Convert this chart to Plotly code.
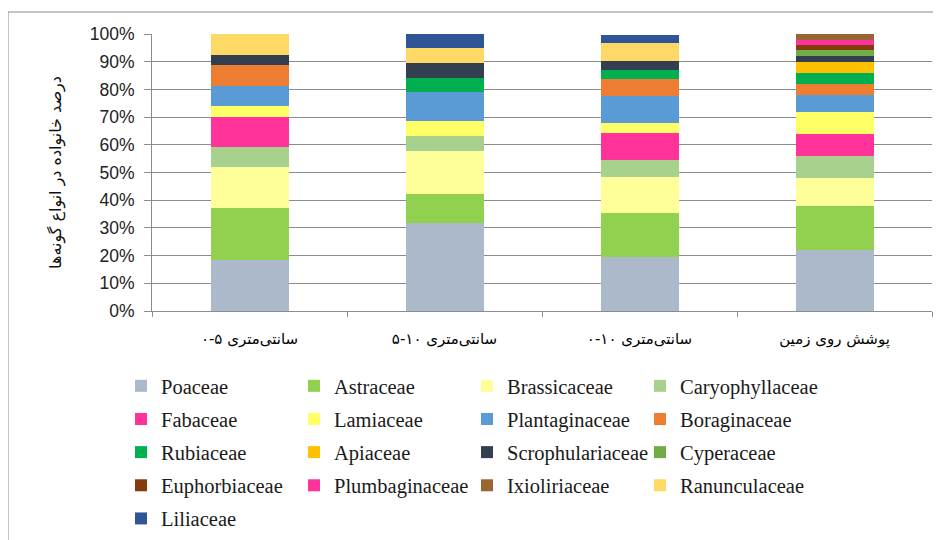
import plotly.graph_objects as go

LRE, RLE, PDF = "\u202A", "\u202B", "\u202C"

def ltr_label(num, word):
    # digits on the left, Persian word on the right, independent of base direction
    return LRE + num + " " + RLE + word + PDF + PDF

categories = [ltr_label("۰-۵", "سانتی‌متری"),
              ltr_label("۵-۱۰", "سانتی‌متری"),
              ltr_label("۰-۱۰", "سانتی‌متری"),
              "پوشش روی زمین"]

families = ["Poaceae", "Astraceae", "Brassicaceae", "Caryophyllaceae",
            "Fabaceae", "Lamiaceae", "Plantaginaceae", "Boraginaceae",
            "Rubiaceae", "Apiaceae", "Scrophulariaceae", "Cyperaceae",
            "Euphorbiaceae", "Plumbaginaceae", "Ixioliriaceae", "Ranunculaceae",
            "Liliaceae"]

poaceae = [18.4, 31.6, 19.5, 21.9]
astraceae = [18.7, 10.7, 15.9, 16.1]
brassicaceae = [14.8, 15.5, 13.1, 10.1]
caryophyllaceae = [7.2, 5.3, 6.1, 7.8]
fabaceae = [11.1, 0.0, 9.6, 8.1]
lamiaceae = [3.9, 5.5, 3.5, 8.0]
plantaginaceae = [7.2, 10.4, 9.8, 5.9]
boraginaceae = [7.6, 0.0, 6.1, 4.1]
rubiaceae = [0.0, 5.2, 3.5, 3.9]
apiaceae = [0.0, 0.0, 0.0, 4.1]
scrophulariaceae = [3.5, 5.2, 3.1, 2.2]
cyperaceae = [0.0, 0.0, 0.0, 1.9]
euphorbiaceae = [0.0, 0.0, 0.0, 1.8]
plumbaginaceae = [0.0, 0.0, 0.0, 2.0]
ixioliriaceae = [0.0, 0.0, 0.0, 2.0]
ranunculaceae = [7.6, 5.4, 6.6, 0.0]
liliaceae = [0.0, 5.2, 3.0, 0.0]

series = [poaceae, astraceae, brassicaceae, caryophyllaceae, fabaceae, lamiaceae,
          plantaginaceae, boraginaceae, rubiaceae, apiaceae, scrophulariaceae,
          cyperaceae, euphorbiaceae, plumbaginaceae, ixioliriaceae, ranunculaceae,
          liliaceae]

colors = ["#ACB9CA", "#92D050", "#FFFF99", "#A9D18E", "#FF3399", "#FFFF66",
          "#5B9BD5", "#ED7D31", "#00B050", "#FFC000", "#333F50", "#70AD47",
          "#843C0C", "#FF3399", "#996633", "#FFD966", "#2F5597"]

y_title = "درصد خانواده در انواع گونه‌ها"

# page body adds an 8px margin; work in window pixels and convert
OFF = 8
WIN_W, WIN_H = 941, 540
W, H = WIN_W - OFF, WIN_H - OFF
PL, PR, PT, PB = 152, 932, 34, 311   # plot area in window pixels
L, R, T, B = PL - OFF, WIN_W - PR, PT - OFF, WIN_H - PB
pw, ph = PR - PL, PB - PT

def px(xw):
    return (xw - PL) / pw

def py(yw):
    return (PB - yw) / ph

legend_names = ["legend", "legend2", "legend3", "legend4"]

fig = go.Figure()
for i, (name, vals, col) in enumerate(zip(families, series, colors)):
    fig.add_trace(go.Bar(x=categories, y=vals, name=name,
                         legend=legend_names[i % 4], legendgroup=name,
                         marker=dict(color=col, line=dict(width=0))))

text_x = [161, 334, 507, 680]
leg_common = dict(orientation="v", yanchor="top", xanchor="left",
                  traceorder="grouped", tracegroupgap=3.5, itemwidth=30,
                  font=dict(family="Liberation Serif", size=20.5, color="#1a1a1a"),
                  bgcolor="rgba(0,0,0,0)", borderwidth=0)
legends = {}
for k, ln in enumerate(legend_names):
    legends[ln] = dict(leg_common, x=px(text_x[k] - 40), y=py(366))

fig.update_layout(
    width=W, height=H,
    margin=dict(l=L, r=R, t=T, b=B, autoexpand=False),
    paper_bgcolor="white", plot_bgcolor="white",
    barmode="stack", bargap=0.6,
    showlegend=True,
    xaxis=dict(showline=True, linecolor="#8c8c8c", linewidth=1,
               ticks="outside", ticklen=5, tickcolor="#8c8c8c", tickson="boundaries",
               ticklabelstandoff=14,
               tickfont=dict(family="DejaVu Sans", size=15, color="#000000"),
               showgrid=False),
    yaxis=dict(range=[0, 100], dtick=10, ticksuffix="%",
               showline=True, linecolor="#8c8c8c", linewidth=1,
               ticks="outside", ticklen=7, tickcolor="#8c8c8c",
               ticklabelstandoff=6,
               showgrid=True, gridcolor="#8c8c8c", gridwidth=1,
               tickfont=dict(family="Liberation Sans", size=17.5, color="#222222"),
               title=dict(text=y_title, standoff=24,
                          font=dict(family="DejaVu Sans", size=16, color="#111111"))),
    shapes=[dict(type="rect", xref="paper", yref="paper",
                 x0=px(8), x1=px(950), y0=py(550), y1=py(12),
                 line=dict(color="#8a8a8a", width=1), fillcolor="rgba(0,0,0,0)",
                 layer="below")],
    **legends,
)

fig.write_html("out.html")
